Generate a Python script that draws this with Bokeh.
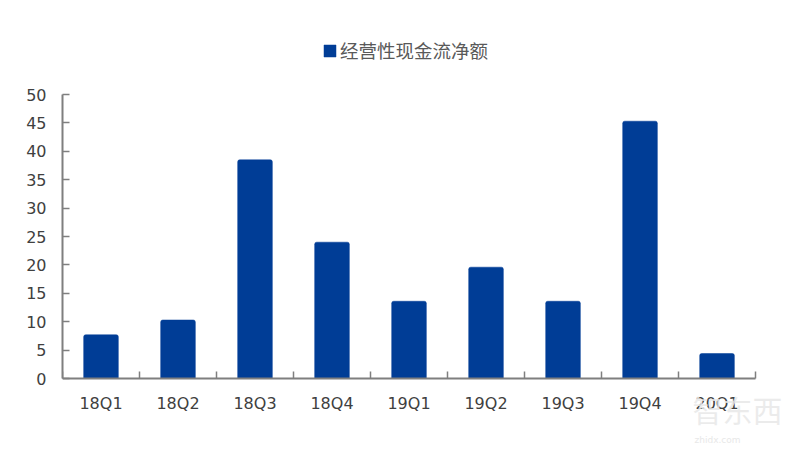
from bokeh.plotting import figure
from bokeh.models import Range1d, FixedTicker, Legend, LegendItem, Label
from bokeh.embed import file_html
from bokeh.resources import INLINE

quarters = ["18Q1", "18Q2", "18Q3", "18Q4", "19Q1", "19Q2", "19Q3", "19Q4", "20Q1"]
cash_flow = [7.7, 10.3, 38.5, 24.0, 13.6, 19.6, 13.6, 45.3, 4.4]
y_ticks = [0, 5, 10, 15, 20, 25, 30, 35, 40, 45, 50]
series_name = "经营性现金流净额"

positions = list(range(len(quarters)))
boundaries = [i - 0.5 for i in range(len(quarters) + 1)]

p = figure(width=800, height=454, output_backend="svg", toolbar_location=None,
           x_range=Range1d(-0.5, 9.084), y_range=Range1d(-13.38, 66.55),
           min_border_left=62, min_border_right=0, min_border_top=0, min_border_bottom=0)
p.outline_line_color = None
p.grid.visible = False
p.background_fill_color = "white"
p.border_fill_color = "white"

bars = p.vbar(x=positions, top=cash_flow, width=0.45, bottom=0,
              fill_color="#003d96", line_color="#003d96", line_width=0.5,
              border_radius=[2, 2, 0, 0])

ax = p.xaxis[0]
ax.fixed_location = 0
ax.bounds = (-0.5, 8.5)
ax.ticker = FixedTicker(ticks=positions, minor_ticks=boundaries)
ax.major_label_overrides = {i: q for i, q in enumerate(quarters)}
ax.major_tick_line_color = None
ax.major_tick_in = 0
ax.major_tick_out = 0
ax.minor_tick_in = 7
ax.minor_tick_out = 0
ax.minor_tick_line_color = "#7f7f7f"
ax.minor_tick_line_width = 1.5
ax.axis_line_color = "#7f7f7f"
ax.axis_line_width = 2
ax.major_label_standoff = 15
ax.major_label_text_font = "DejaVu Sans"
ax.major_label_text_font_size = "16px"
ax.major_label_text_color = "#404040"

ay = p.yaxis[0]
ay.ticker = FixedTicker(ticks=y_ticks)
ay.bounds = (0, 50)
ay.major_tick_in = 7
ay.major_tick_out = 0
ay.minor_tick_line_color = None
ay.major_tick_line_color = "#7f7f7f"
ay.major_tick_line_width = 1.5
ay.axis_line_color = "#7f7f7f"
ay.axis_line_width = 2
ay.major_label_standoff = 16
ay.major_label_text_font = "DejaVu Sans"
ay.major_label_text_font_size = "16px"
ay.major_label_text_color = "#404040"

legend = Legend(items=[LegendItem(label=series_name, renderers=[bars])],
                location=(260, 391), orientation="horizontal",
                border_line_color=None, background_fill_alpha=0,
                label_text_font="Noto Sans CJK SC", label_text_font_size="18.5px",
                label_text_color="#595959", glyph_width=15, glyph_height=15,
                label_standoff=3, padding=4, margin=0)
p.add_layout(legend, "center")

p.add_layout(Label(x=630, y=24, x_units="screen", y_units="screen",
                   text="智东西", text_font="Noto Sans CJK SC", text_font_size="30px",
                   text_color="#e8e8e8", text_alpha=0.85))
p.add_layout(Label(x=632, y=10, x_units="screen", y_units="screen",
                   text="zhidx.com", text_font="DejaVu Sans", text_font_size="9px",
                   text_color="#e8e8e8"))

open("out.html", "w").write(file_html(p, INLINE))
